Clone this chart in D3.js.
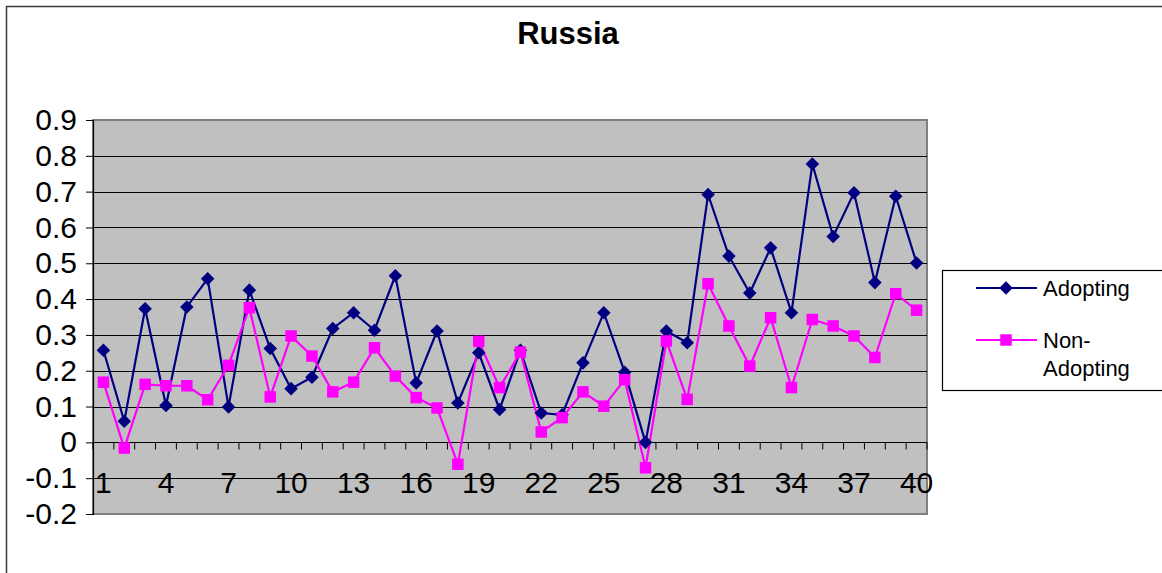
<!DOCTYPE html>
<html>
<head>
<meta charset="utf-8">
<script src="https://cdn.jsdelivr.net/npm/d3@7/dist/d3.min.js"></script>
<style>
  html, body { margin: 0; padding: 0; background: #fff; }
  svg { display: block; font-family: "Liberation Sans", Arial, sans-serif; }
</style>
</head>
<body>
<svg id="chart" width="1162" height="573"></svg>
<script>
// Survey periods 1..40
const categories = d3.range(1, 41);
const adopting = [
  0.257, 0.059, 0.373, 0.103, 0.378, 0.457, 0.099, 0.425, 0.262, 0.150,
  0.182, 0.318, 0.362, 0.313, 0.465, 0.166, 0.311, 0.110, 0.250, 0.092,
  0.257, 0.082, 0.077, 0.222, 0.362, 0.196, 0.000, 0.311, 0.278, 0.692,
  0.520, 0.417, 0.543, 0.362, 0.777, 0.575, 0.697, 0.446, 0.687, 0.501
];
const nonAdopting = [
  0.168, -0.016, 0.162, 0.158, 0.158, 0.119, 0.215, 0.376, 0.127, 0.297,
  0.241, 0.141, 0.168, 0.264, 0.185, 0.125, 0.096, -0.061, 0.282, 0.153,
  0.252, 0.029, 0.069, 0.141, 0.101, 0.175, -0.071, 0.283, 0.120, 0.443,
  0.325, 0.213, 0.348, 0.153, 0.343, 0.325, 0.297, 0.237, 0.415, 0.369
];
const yTicks = [-0.2, -0.1, 0, 0.1, 0.2, 0.3, 0.4, 0.5, 0.6, 0.7, 0.8, 0.9];
const xTickLabels = [1, 4, 7, 10, 13, 16, 19, 22, 25, 28, 31, 34, 37, 40];
const seriesNames = ["Adopting", "Non-Adopting"];

const svg = d3.select("#chart");
const plot = { left: 93, right: 927, top: 120, bottom: 514 };

const x = d3.scaleBand().domain(categories).range([plot.left, plot.right]);
const y = d3.scaleLinear().domain([-0.2, 0.9]).range([plot.bottom, plot.top]);
const cx = d => x(d) + x.bandwidth() / 2;

// outer chart frame
svg.append("rect")
  .attr("x", 6.5).attr("y", 6.5).attr("width", 1170).attr("height", 580)
  .attr("fill", "none").attr("stroke", "#3a3a3a").attr("stroke-width", 1.5);

// title
svg.append("text")
  .attr("x", 568).attr("y", 44).attr("text-anchor", "middle")
  .attr("font-size", 31).attr("font-weight", "bold").text("Russia");

// plot area
svg.append("rect")
  .attr("x", plot.left).attr("y", plot.top)
  .attr("width", plot.right - plot.left).attr("height", plot.bottom - plot.top)
  .attr("fill", "#c0c0c0").attr("stroke", "#808080").attr("stroke-width", 2);

// horizontal gridlines
svg.append("g").selectAll("line")
  .data(yTicks.filter(t => t > -0.2 && t < 0.9))
  .join("line")
  .attr("x1", plot.left).attr("x2", plot.right)
  .attr("y1", d => Math.round(y(d)) + 0.5).attr("y2", d => Math.round(y(d)) + 0.5)
  .attr("stroke", "#000").attr("stroke-width", 1);

// value axis (plain hyphen for negatives)
const yAxis = svg.append("g")
  .attr("transform", `translate(${plot.left},0)`)
  .call(d3.axisLeft(y).tickValues(yTicks).tickSize(7).tickPadding(9)
    .tickFormat(d => String(+d.toFixed(1))));
yAxis.select(".domain").attr("stroke", "#000").attr("stroke-width", 1.2);
yAxis.selectAll(".tick line").attr("stroke", "#000");
yAxis.selectAll("text").attr("font-size", 30).attr("fill", "#000")
  .attr("font-family", "Liberation Sans, Arial, sans-serif");

// category axis at zero
const y0 = Math.round(y(0)) + 0.5;
svg.append("line")
  .attr("x1", plot.left).attr("x2", plot.right).attr("y1", y0).attr("y2", y0)
  .attr("stroke", "#000").attr("stroke-width", 1.2);
svg.append("g").selectAll("line")
  .data(d3.range(categories.length + 1))
  .join("line")
  .attr("x1", i => plot.left + i * x.bandwidth())
  .attr("x2", i => plot.left + i * x.bandwidth())
  .attr("y1", y0).attr("y2", y0 + 7)
  .attr("stroke", "#000");
svg.append("g").selectAll("text")
  .data(xTickLabels)
  .join("text")
  .attr("x", d => cx(d)).attr("y", y(0) + 51)
  .attr("text-anchor", "middle").attr("font-size", 30).text(d => d);

// series
const series = [
  { name: seriesNames[0], values: adopting, color: "#000080", symbol: d3.symbolSquare, size: 92, rot: 45 },
  { name: seriesNames[1], values: nonAdopting, color: "#ff00ff", symbol: d3.symbolSquare, size: 132, rot: 0 }
];
const line = d3.line().x((v, i) => cx(categories[i])).y(v => y(v));

series.forEach(s => {
  svg.append("path")
    .attr("d", line(s.values))
    .attr("fill", "none").attr("stroke", s.color).attr("stroke-width", 2.2)
    .attr("stroke-linejoin", "miter");
});
series.forEach(s => {
  svg.append("g").selectAll("path")
    .data(s.values)
    .join("path")
    .attr("transform", (v, i) => `translate(${cx(categories[i])},${y(v)}) rotate(${s.rot})`)
    .attr("d", d3.symbol().type(s.symbol).size(s.size))
    .attr("fill", s.color);
});

// legend
const lg = svg.append("g");
lg.append("rect")
  .attr("x", 942.5).attr("y", 270.5).attr("width", 240).attr("height", 120)
  .attr("fill", "#fff").attr("stroke", "#000").attr("stroke-width", 1.2);
const legendRows = [
  { s: series[0], y: 288, lines: ["Adopting"] },
  { s: series[1], y: 340, lines: ["Non-", "Adopting"] }
];
legendRows.forEach(r => {
  lg.append("line").attr("x1", 976).attr("x2", 1037).attr("y1", r.y).attr("y2", r.y)
    .attr("stroke", r.s.color).attr("stroke-width", 2.2);
  lg.append("path").attr("transform", `translate(1006,${r.y}) rotate(${r.s.rot})`)
    .attr("d", d3.symbol().type(r.s.symbol).size(r.s.size)).attr("fill", r.s.color);
  r.lines.forEach((t, i) => {
    lg.append("text").attr("x", 1043).attr("y", r.y + 8 + i * 28)
      .attr("font-size", 22).text(t);
  });
});
</script>
</body>
</html>
